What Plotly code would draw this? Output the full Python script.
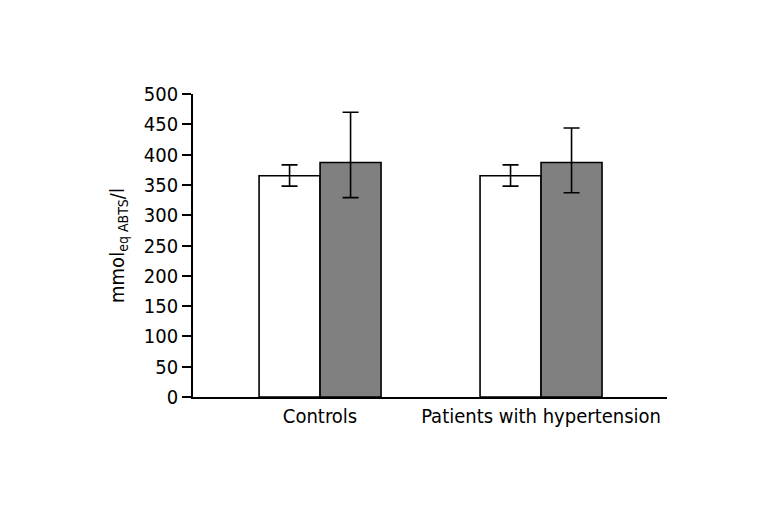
import plotly.graph_objects as go

categories = ["Controls", "Patients with hypertension"]
white_values = [365, 365]
white_err_plus = [18, 18]
white_err_minus = [17, 17]
gray_values = [387, 387]
gray_err_plus = [83, 57]
gray_err_minus = [58, 50]
y_ticks = [0, 50, 100, 150, 200, 250, 300, 350, 400, 450, 500]

FONT = "Liberation Sans Narrow, DejaVu Sans Condensed, Arial Narrow, DejaVu Sans, sans-serif"

def f(size=20):
    return dict(family=FONT, size=size, color="black")

fig = go.Figure()
fig.add_trace(go.Bar(
    x=categories, y=white_values, name="white",
    marker=dict(color="white", line=dict(color="black", width=1.6)),
    error_y=dict(type="data", symmetric=False, array=white_err_plus,
                 arrayminus=white_err_minus, color="black", thickness=1.6, width=8),
))
fig.add_trace(go.Bar(
    x=categories, y=gray_values, name="gray",
    marker=dict(color="#808080", line=dict(color="black", width=1.6)),
    error_y=dict(type="data", symmetric=False, array=gray_err_plus,
                 arrayminus=gray_err_minus, color="black", thickness=1.6, width=8),
))

fig.update_layout(
    width=771, height=514,
    margin=dict(l=185, r=112, t=86, b=125),
    paper_bgcolor="white", plot_bgcolor="white",
    barmode="group", bargap=0.448, bargroupgap=0,
    showlegend=False,
    font=f(),
)
fig.update_xaxes(
    type="category", range=[-0.575, 1.57],
    showline=True, linecolor="black", linewidth=1.6,
    ticks="", showgrid=False, zeroline=False,
    tickfont=f(),
)
fig.update_yaxes(
    range=[0, 500], tickvals=y_ticks,
    showline=True, linecolor="black", linewidth=1.6,
    ticks="outside", ticklen=9, tickwidth=1.6, tickcolor="black",
    showgrid=False, zeroline=False,
    tickfont=f(),
    title=dict(text="mmol<sub>eq ABTS</sub>/l", font=f(), standoff=14),
)

fig.write_html("out.html")
